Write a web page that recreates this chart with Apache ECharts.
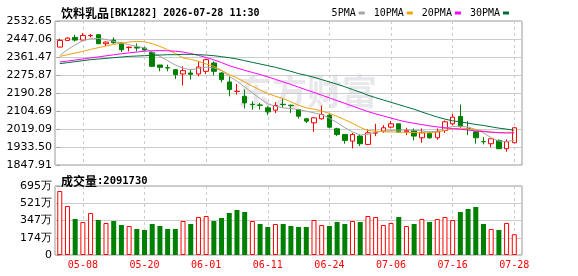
<!DOCTYPE html>
<html><head><meta charset="utf-8">
<script src="https://cdn.jsdelivr.net/npm/echarts@6/dist/echarts.min.js"></script>
<style>html,body{margin:0;padding:0;background:#fff}#c{width:578px;height:276px}</style>
</head><body><div id="c"></div>
<script>
const dates = ['04-30','05-06','05-07','05-08','05-11','05-12','05-13','05-14','05-15','05-18',
'05-19','05-20','05-21','05-22','05-25','05-26','05-27','05-28','05-29','06-01',
'06-02','06-03','06-04','06-05','06-08','06-09','06-10','06-11','06-12','06-15',
'06-16','06-17','06-18','06-22','06-23','06-24','06-25','06-26','06-29','06-30',
'07-01','07-02','07-03','07-06','07-07','07-08','07-09','07-10','07-13','07-14',
'07-15','07-16','07-17','07-20','07-21','07-22','07-23','07-24','07-27','07-28'];
const opens = [2408.7,2440.3,2454.6,2441.9,2462.5,2467.2,2424.5,2441.9,2427.7,2406.1,
2408.7,2404.0,2383.5,2323.4,2310.8,2301.3,2280.8,2285.5,2280.8,2293.4,
2332.9,2285.5,2242.8,2197.6,2174.9,2136.5,2133.3,2119.6,2108.5,2136.6,
2131.5,2111.7,2067.5,2048.5,2067.5,2084.8,2020.1,1993.2,1961.6,1985.3,
1945.8,2000.0,2009.0,2028.0,2043.8,2005.8,2012.2,1977.4,1998.0,1977.4,
2012.2,2043.8,2078.5,2022.0,2005.8,1959.0,1949.0,1964.8,1925.3,1953.7];
const closes = [2440.3,2451.4,2441.9,2464.0,2464.0,2424.5,2432.4,2429.3,2396.1,2408.2,
2404.0,2394.5,2317.1,2312.4,2309.2,2277.6,2296.6,2279.2,2313.9,2348.7,
2293.4,2253.9,2206.5,2198.6,2143.3,2135.4,2132.2,2100.6,2130.7,2135.0,
2130.0,2080.1,2056.4,2072.2,2088.0,2028.0,1993.2,1964.8,1993.2,1949.0,
2001.1,2001.1,2024.8,2043.8,2005.8,2012.2,1985.3,2001.1,1977.4,2005.8,
2053.2,2075.4,2032.7,2021.6,1977.4,1958.4,1972.7,1925.3,1958.4,2024.8];
const lows = [2407.2,2438.8,2435.6,2438.8,2454.6,2423.0,2413.5,2424.5,2385.0,2388.2,
2388.2,2391.4,2317.1,2293.4,2293.4,2257.1,2225.5,2253.9,2269.7,2280.8,
2274.4,2241.3,2174.9,2182.8,2116.4,2111.7,2111.7,2084.8,2094.3,2119.6,
2095.9,2069.0,2046.9,2005.8,2064.3,2021.6,1985.3,1949.0,1926.8,1937.9,
1942.6,1985.3,2001.1,2021.6,2001.1,1990.0,1964.8,1953.7,1972.7,1967.9,
2000.0,2037.4,2024.8,1990.0,1949.0,1945.8,1933.2,1923.7,1911.0,1952.1];
const highs = [2448.2,2454.6,2467.2,2475.1,2470.4,2468.8,2435.6,2454.6,2430.9,2411.9,
2426.1,2410.3,2388.2,2323.4,2325.0,2304.5,2317.1,2301.3,2340.8,2353.4,
2340.8,2288.7,2269.7,2233.4,2206.5,2151.2,2143.3,2127.5,2146.5,2163.8,
2135.4,2114.9,2072.2,2075.4,2130.7,2091.2,2024.8,1993.2,2001.1,1993.2,
2016.9,2043.8,2037.4,2056.4,2043.8,2024.8,2021.6,2021.6,2005.8,2021.6,
2059.6,2091.2,2135.4,2056.4,2005.8,1980.6,1972.7,1969.5,1969.5,2028.0];
const ma5 = [2369.2,2396.1,2419.8,2438.8,2448.2,2449.8,2445.1,2435.6,2427.7,2419.8,
2411.9,2404.0,2385.0,2364.5,2344.0,2323.4,2307.6,2301.3,2306.0,2313.9,
2309.2,2296.6,2269.7,2246.0,2219.1,2190.7,2163.8,2138.6,2127.5,2119.6,
2116.4,2111.7,2103.8,2095.9,2088.0,2070.0,2050.1,2025.6,2005.1,1990.7,
1993.9,2004.4,2008.7,2012.0,2014.0,2015.0,2012.8,2010.4,2005.7,2009.0,
2021.6,2031.1,2032.7,2028.0,2016.9,2001.1,1977.4,1961.6,1960.0,1964.8];
const ma10 = [2364.5,2372.4,2380.3,2388.2,2397.7,2405.6,2413.5,2421.4,2427.7,2432.4,
2435.6,2434.0,2424.5,2411.9,2396.1,2378.7,2356.6,2350.3,2340.8,2328.2,
2317.1,2298.1,2277.6,2261.8,2242.8,2222.3,2204.9,2187.5,2174.9,2163.8,
2148.0,2132.2,2119.6,2113.4,2104.9,2093.3,2079.1,2063.3,2046.5,2026.7,
2012.1,2008.7,2006.0,2004.8,2004.3,2003.1,2002.1,2001.1,2001.1,2004.3,
2012.2,2020.1,2023.2,2020.1,2015.3,2009.0,2004.3,2001.1,2002.7,2004.3];
const ma20 = [2337.6,2342.0,2347.0,2352.0,2357.0,2362.0,2367.0,2372.0,2377.0,2381.0,
2385.0,2389.0,2391.0,2392.0,2391.0,2389.0,2385.0,2378.0,2369.0,2359.0,
2348.0,2335.0,2320.0,2309.0,2298.0,2288.0,2278.0,2267.0,2255.0,2243.0,
2231.0,2218.0,2205.0,2193.0,2180.0,2167.0,2154.0,2141.0,2128.0,2115.0,
2102.0,2091.0,2081.0,2071.0,2061.0,2053.0,2046.0,2040.0,2034.0,2029.0,
2025.0,2021.0,2018.0,2014.0,2010.0,2007.0,2004.0,2002.0,2000.0,2001.0];
const ma30 = [2329.8,2334.5,2339.2,2344.0,2348.7,2351.9,2355.0,2358.2,2361.3,2364.5,
2366.1,2367.7,2369.2,2370.8,2372.4,2372.4,2374.0,2374.0,2372.4,2370.8,
2367.7,2362.9,2358.2,2351.9,2344.0,2336.1,2328.2,2320.3,2312.4,2302.9,
2293.4,2282.3,2274.4,2264.9,2253.9,2243.0,2232.0,2220.0,2207.0,2194.0,
2180.0,2168.0,2157.0,2146.0,2135.0,2124.0,2113.0,2100.0,2088.0,2076.0,
2066.0,2058.0,2053.2,2046.9,2040.6,2035.9,2029.5,2023.2,2018.5,2013.7];
const volumes = [6446000,4935000,3626000,3323000,4230000,3525000,3223000,3424000,3021000,2921000,
2618000,2518000,3122000,2921000,2618000,2618000,3424000,3122000,3827000,3928000,
3424000,3726000,4230000,4532000,4331000,3424000,3122000,2820000,3122000,3122000,
2921000,2820000,2820000,3525000,3021000,2921000,3323000,3122000,3424000,3323000,
3928000,3827000,3021000,3223000,3827000,2921000,3122000,3626000,3323000,3626000,
3827000,3525000,4331000,4633000,4834000,3122000,2618000,2518000,3223000,2091730];
const volUp = [1,1,0,1,1,0,1,0,0,1, 0,0,0,0,0,0,1,0,1,1, 0,0,0,0,0,1,0,0,1,0,
0,0,0,1,1,0,0,0,1,0, 1,1,1,1,0,1,0,1,0,1, 1,1,0,0,0,0,1,0,1,1];
const priceTicks = [1847.91,1933.50,2019.09,2104.69,2190.28,2275.87,2361.47,2447.06,2532.65];
const priceTickLabels = ['1847.91','1933.50','2019.09','2104.69','2190.28','2275.87','2361.47','2447.06','2532.65'];
const volTicks = [0,1737500,3475000,5212500,6950000];
const volTickLabels = ['0','174万','347万','521万','695万'];
const dateTickLabels = ['05-08','05-20','06-01','06-11','06-24','07-06','07-16','07-28'];
const maNames = ['5PMA','10PMA','20PMA','30PMA'];
const titleName = '饮料乳品', titleCode = '[BK1282] 2026-07-28 11:30';
const volTitle = '成交量', volNow = ':2091730';
const watermark = '东方财富';

const RED = '#ff0000', GREEN = '#008000';
const maColors = ['#a4a4a4','#f0a30a','#ff00ff','#006f37'];
const maData = [ma5, ma10, ma20, ma30];
const dateTickIdx = dateTickLabels.map(d => dates.indexOf(d));
const candle = dates.map((d, i) => [i, opens[i], closes[i], lows[i], highs[i]]);
const vols = dates.map((d, i) => ({
  value: [i, volumes[i]],
  itemStyle: volUp[i] ? {color: '#fff', borderColor: RED, borderWidth: 1} : {color: GREEN, borderColor: GREEN, borderWidth: 0}
}));
const MONO = '"DejaVu Sans Mono", "Liberation Mono", monospace';
const CJK = '"Noto Sans CJK SC", sans-serif';
const NUM = '"DejaVu Sans", sans-serif';

const xBase = {
  type: 'value', min: -0.62, max: 60.0,
  axisLine: {show: false},
  axisTick: {show: false, customValues: dateTickIdx},
  splitLine: {show: true, lineStyle: {color: '#cccccc', type: [3, 3], width: 1}}
};
const chart = echarts.init(document.getElementById('c'), null, {renderer: 'canvas'});
chart.setOption({
  animation: false,
  backgroundColor: '#fff',
  title: [
    {text: '{a|' + titleName + '}{b|' + titleCode + '}', left: 56, top: 2,
     textStyle: {rich: {a: {fontFamily: CJK, fontSize: 12, color: '#000'}, b: {fontFamily: MONO, fontSize: 10, color: '#000'}}}},
    {text: '{a|' + volTitle + '}{b|' + volNow + '}', left: 56, top: 170,
     textStyle: {rich: {a: {fontFamily: CJK, fontSize: 12, color: '#000'}, b: {fontFamily: MONO, fontSize: 10.5, color: '#000'}}}}
  ],
  legend: {
    data: maNames, right: 64, top: 3, align: 'right', icon: 'rect',
    itemWidth: 6, itemHeight: 3, itemGap: 9, selectedMode: false,
    textStyle: {fontFamily: MONO, fontSize: 10, color: '#000', padding: [0, -2, 0, 0]}
  },
  graphic: [{type: 'text', left: 237, top: 74, z: -10, silent: true,
    style: {text: watermark, fontFamily: CJK, fontSize: 35, fontWeight: 'bold', fill: '#e8e8ec'}}],
  grid: [
    {left: 55, width: 467, top: 21, height: 144, show: true, borderColor: '#999999', borderWidth: 1, backgroundColor: 'transparent'},
    {left: 55, width: 467, top: 186, height: 69, show: true, borderColor: '#999999', borderWidth: 1, backgroundColor: 'transparent'}
  ],
  xAxis: [
    Object.assign({gridIndex: 0, axisLabel: {show: false}}, xBase),
    Object.assign({gridIndex: 1, axisLabel: {show: true, customValues: dateTickIdx, formatter: v => dates[Math.round(v)] || '',
      color: RED, fontFamily: MONO, fontSize: 10, margin: 5}}, xBase)
  ],
  yAxis: [
    {gridIndex: 0, type: 'value', min: priceTicks[0], max: priceTicks[priceTicks.length - 1],
     axisLine: {show: false},
     axisTick: {show: true, length: 3, customValues: priceTicks, lineStyle: {color: '#999999'}},
     axisLabel: {customValues: priceTicks, formatter: v => priceTickLabels[priceTicks.indexOf(v)] || '',
       fontFamily: NUM, fontSize: 11, color: '#000', margin: 3},
     splitLine: {show: true, lineStyle: {color: '#cccccc', width: 1}}},
    {gridIndex: 1, type: 'value', min: volTicks[0], max: volTicks[volTicks.length - 1],
     axisLine: {show: false},
     axisTick: {show: true, length: 3, customValues: volTicks, lineStyle: {color: '#999999'}},
     axisLabel: {customValues: volTicks, formatter: v => volTickLabels[volTicks.indexOf(v)] || '',
       fontFamily: NUM, fontSize: 11, color: '#000', margin: 3},
     splitLine: {show: true, lineStyle: {color: '#cccccc', width: 1}}}
  ],
  series: [
    {type: 'candlestick', xAxisIndex: 0, yAxisIndex: 0, data: candle, encode: {x: 0, y: [1, 2, 3, 4]},
     barWidth: 5,
     itemStyle: {color: '#ffffff', color0: GREEN, borderColor: RED, borderColor0: GREEN, borderWidth: 1}},
    ...maNames.map((n, k) => ({
      name: n, type: 'line', xAxisIndex: 0, yAxisIndex: 0,
      data: maData[k].map((v, i) => [i, v]), showSymbol: false, symbol: 'none', smooth: false,
      lineStyle: {color: maColors[k], width: 1}, itemStyle: {color: maColors[k]}, z: 3
    })),
    {type: 'bar', xAxisIndex: 1, yAxisIndex: 1, data: vols, barWidth: 5}
  ]
});
</script></body></html>
